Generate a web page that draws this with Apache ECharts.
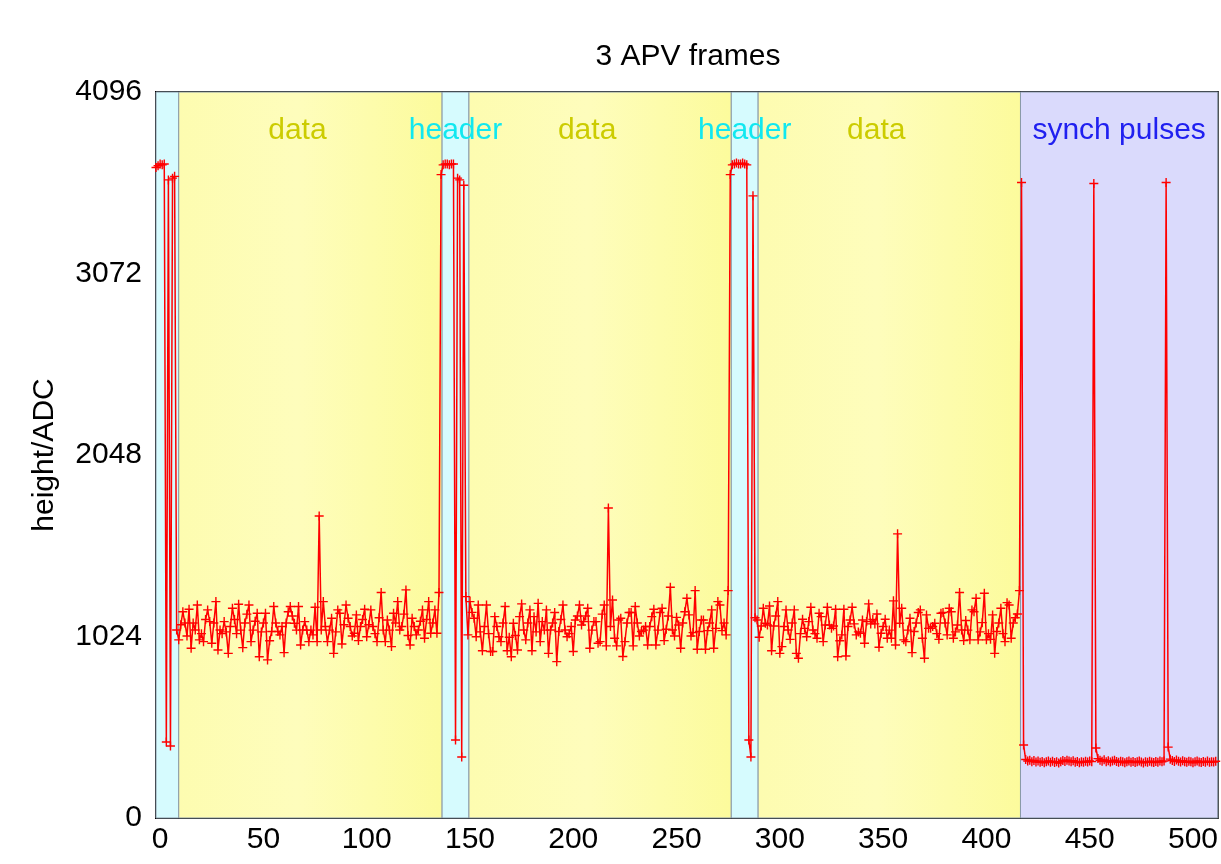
<!DOCTYPE html>
<html>
<head>
<meta charset="utf-8">
<title>3 APV frames</title>
<script src="https://cdn.jsdelivr.net/npm/echarts@6/dist/echarts.min.js"></script>
<style>
html, body { margin: 0; padding: 0; background: #fff; }
#chart { width: 1221px; height: 864px; }
</style>
</head>
<body>
<div id="chart"></div>
<script>
// ADC samples, one per x unit, first one at x = -2
var firstSample = -2;

var header1 = [3670, 3680, 3690, 3685, 3690, 429, 3600, 406, 3610, 3620];
var data1 = [
    1061, 1005, 1090, 1164, 1100, 1027, 1178, 958, 1100, 1061,
    1202, 1005, 1040, 995, 1120, 1174, 1108, 986, 1100, 1221,
    948, 1061, 1040, 1108, 1050, 929, 1080, 1183, 1120, 1040,
    1206, 1060, 961, 1100, 1150, 1202, 995, 1060, 1110, 1155,
    910, 1050, 1100, 1155, 892, 1000, 1052, 1193, 1100, 1052,
    1033, 1080, 933, 1100, 1164, 1193, 1140, 1099, 1060, 1193,
    976, 1061, 1108, 1060, 995, 1060, 1033, 1189, 995, 1704,
    1061, 1221, 1080, 995, 1060, 1127, 929, 1050, 1174, 1155,
    982, 1090, 1202, 1127, 1080, 1027, 1042, 1146, 1001, 1080,
    1120, 1178, 1023, 1090, 1174, 1080, 1040, 995, 1130, 1272,
    1060, 995, 1117, 1060, 967, 1155, 1100, 1221, 1061, 1080,
    1150, 1287, 1030, 976, 1127, 1080, 1033, 1061, 1110, 1174,
    1014, 1120, 1221, 1042, 1100, 1174, 1042, 1272
];
var header2 = [3630, 3685, 3690, 3690, 3685, 3690, 3690, 440, 3610, 3600, 344, 3570];
var data2 = [
    1249, 1033, 1221, 1160, 1127, 1023, 1202, 1050, 944, 1080,
    1202, 1040, 939, 939, 1136, 1080, 1023, 995, 1100, 1193,
    944, 1020, 910, 1099, 1030, 948, 1136, 1208, 1061, 1005,
    1100, 1174, 944, 1136, 1050, 1211, 995, 1108, 1060, 1174,
    929, 1061, 1100, 1159, 882, 1052, 1120, 1202, 1061, 1023,
    1040, 1080, 939, 1117, 1140, 1202, 1089, 1108, 1140, 1183,
    958, 1060, 1108, 1108, 986, 995, 1150, 1202, 971, 1749,
    1080, 1230, 1014, 971, 1117, 1127, 911, 995, 1100, 1159,
    1159, 971, 1193, 1100, 1027, 1052, 1060, 1080, 976, 1080,
    1136, 1178, 976, 1060, 1159, 1183, 1001, 1065, 1140, 1302,
    1061, 1027, 1132, 1089, 958, 1100, 1164, 1240, 1146, 1027,
    1046, 1283, 952, 1052, 1117, 1117, 952, 1057, 1100, 1174,
    958, 1070, 1221, 1202, 1057, 1100, 1033, 1283
];
var header3 = [3630, 3685, 3690, 3695, 3690, 3690, 3695, 3690, 3685, 440, 344, 3510];
var data3 = [
    1130, 1117, 1020, 1083, 1183, 1099, 1089, 1196, 944, 1083,
    1140, 1221, 929, 967, 1080, 1174, 1061, 1008, 1100, 1174,
    929, 901, 1040, 1121, 1070, 1023, 1108, 1189, 1061, 1040,
    1014, 1155, 1136, 995, 1089, 1189, 1089, 1070, 1083, 1178,
    910, 1000, 1033, 1178, 914, 1080, 1117, 1189, 1095, 1033,
    1050, 1042, 1117, 986, 1108, 1208, 1095, 1120, 1095, 1151,
    963, 1042, 1080, 1121, 1014, 1060, 1014, 1225, 976, 1603,
    1099, 1183, 1005, 995, 1060, 1127, 933, 1052, 1100, 1159,
    1174, 1014, 901, 1146, 1070, 1070, 1080, 1099, 1040, 1008,
    1155, 1159, 1100, 1033, 1183, 1164, 1014, 1050, 1089, 1272,
    1061, 1001, 1114, 1060, 1005, 1174, 1164, 1240, 1005, 1050,
    1102, 1268, 1005, 1040, 1008, 1146, 929, 1052, 1100, 1183,
    1040, 995, 1215, 1202, 1014, 1100, 1130, 1151
];
var synch = [
    1283, 3585, 412,
    330, 322, 326, 318, 324, 316, 321, 314, 319, 312,
    318, 322, 315, 320, 313, 317, 310, 318, 324, 319,
    326, 321, 317, 323, 315, 319, 312, 318, 314, 320,
    316, 322, 318,
    3580, 395,
    335, 326, 320, 328, 318, 323, 316, 321, 326, 319,
    314, 320, 317, 312, 318, 322, 315, 319, 313, 317,
    321, 316, 311, 318, 314, 320, 316, 313, 319, 315,
    321, 317, 322,
    3585, 400,
    332, 325, 319, 327, 320, 316, 323, 318, 314, 320,
    317, 312, 318, 322, 316, 313, 319, 315, 321, 314,
    318, 316, 320
];

var xTicks = [0, 50, 100, 150, 200, 250, 300, 350, 400, 450, 500];

// frame sections (x range) and their captions
var regions = [
    {kind: 'header', from: -2, to: 9, text: ''},
    {kind: 'data', from: 9, to: 136.5, text: 'data'},
    {kind: 'header', from: 136.5, to: 149.5, text: 'header'},
    {kind: 'data', from: 149.5, to: 276.5, text: 'data'},
    {kind: 'header', from: 276.5, to: 289.5, text: 'header'},
    {kind: 'data', from: 289.5, to: 416.5, text: 'data'},
    {kind: 'synch', from: 416.5, to: 512, text: 'synch pulses'}
];

var fills = {
    header: '#d6fbfe',
    data: new echarts.graphic.LinearGradient(0, 0, 1, 0, [
        {offset: 0, color: '#fdfcb0'},
        {offset: 0.45, color: '#fefdbc'},
        {offset: 1, color: '#fcfb9c'}
    ]),
    synch: '#dadafc'
};
var inks = {header: '#11e8f0', data: '#cccc00', synch: '#2020f0'};

var adc = [].concat(header1, data1, header2, data2, header3, data3, synch);
var points = adc.map(function (v, i) { return [firstSample + i, v]; });

var font = 'Liberation Sans, Arial, Helvetica, sans-serif';
var plus = 'path://M-0.7,-4.5L0.7,-4.5L0.7,-0.7L4.5,-0.7L4.5,0.7L0.7,0.7L0.7,4.5L-0.7,4.5L-0.7,0.7L-4.5,0.7L-4.5,-0.7L-0.7,-0.7Z';

var chart = echarts.init(document.getElementById('chart'));
chart.setOption({
    animation: false,
    backgroundColor: '#fff',
    graphic: [{
        type: 'text',
        x: 688,
        y: 57,
        style: {
            text: '3 APV frames', fontSize: 30, fontFamily: font, fill: '#000',
            align: 'center', verticalAlign: 'middle'
        }
    }],
    grid: {
        left: 156, right: 2, top: 92, bottom: 46,
        show: true, borderColor: '#000', borderWidth: 2
    },
    xAxis: {
        type: 'value',
        min: -2,
        max: 512,
        axisLine: {show: false},
        axisTick: {show: false},
        splitLine: {show: false},
        axisLabel: {
            customValues: xTicks,
            color: '#000', fontSize: 30, fontFamily: font, margin: 7
        }
    },
    yAxis: {
        type: 'value',
        min: 0,
        max: 4096,
        interval: 1024,
        name: 'height/ADC',
        nameLocation: 'middle',
        nameGap: 96,
        nameTextStyle: {color: '#000', fontSize: 30, fontFamily: font},
        axisLine: {show: false},
        axisTick: {show: false},
        splitLine: {show: false},
        axisLabel: {
            color: '#000', fontSize: 30, fontFamily: font, margin: 14,
            formatter: function (v) { return String(v); }
        }
    },
    series: [{
        type: 'line',
        data: [],
        silent: true,
        markArea: {
            silent: true,
            data: regions.map(function (r) {
                return [{
                    xAxis: r.from,
                    itemStyle: {color: fills[r.kind], borderColor: '#8a9aa8', borderWidth: 1},
                    label: {
                        show: true,
                        formatter: r.text,
                        position: 'insideTop',
                        distance: 24,
                        offset: [r.kind === 'data' ? -13 : 0, 0],
                        color: inks[r.kind],
                        fontSize: 30,
                        fontFamily: font
                    }
                }, {xAxis: r.to}];
            })
        }
    }, {
        type: 'line',
        data: points,
        symbol: plus,
        symbolSize: 9,
        showAllSymbol: true,
        lineStyle: {color: '#ff0000', width: 1.5},
        itemStyle: {color: '#ff0000'},
        z: 3
    }]
});
</script>
</body>
</html>
